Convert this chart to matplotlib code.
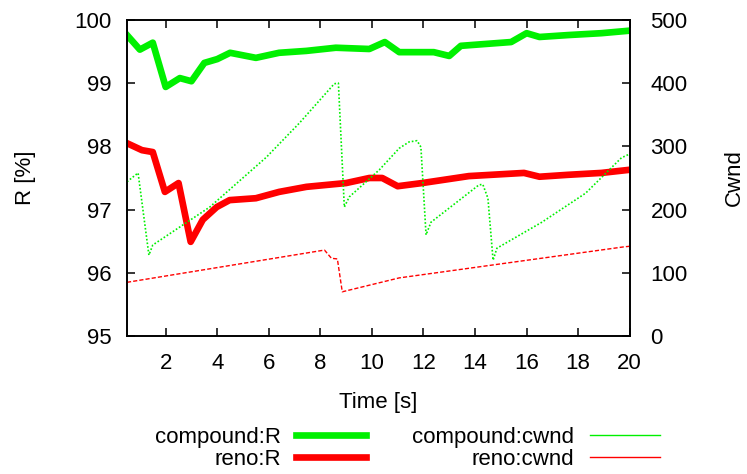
import matplotlib
matplotlib.use("Agg")
import matplotlib.pyplot as plt
from matplotlib.lines import Line2D

plt.rcParams['font.family'] = ['Liberation Sans', 'DejaVu Sans']
plt.rcParams['font.size'] = 16

# compound R [%]
t_cr = [0.5, 1.0, 1.5, 2.0, 2.55, 3.0, 3.5, 4.0, 4.5, 5.5, 6.4, 7.46, 8.6, 9.9,
        10.5, 11.06, 12.4, 13.0, 13.45, 15.4, 16.0, 16.5, 17.6, 18.9, 20]
r_comp = [99.76, 99.53, 99.64, 98.94, 99.08, 99.03, 99.32, 99.38, 99.48, 99.40,
          99.48, 99.51, 99.56, 99.54, 99.65, 99.49, 99.49, 99.43, 99.59, 99.65,
          99.79, 99.73, 99.76, 99.79, 99.83]

# reno R [%]
t_rr = [0.5, 1.08, 1.5, 1.97, 2.5, 2.97, 3.44, 3.98, 4.48, 5.5, 6.4, 7.46, 9.0,
        9.9, 10.4, 11.0, 11.95, 13.76, 15.9, 16.5, 17.6, 18.9, 20]
r_reno = [98.05, 97.94, 97.91, 97.28, 97.42, 96.49, 96.84, 97.04, 97.15, 97.18,
          97.28, 97.36, 97.42, 97.50, 97.50, 97.37, 97.42, 97.53, 97.58, 97.52,
          97.55, 97.58, 97.63]

# compound cwnd
t_cc = [0.5, 0.93, 1.35, 1.5, 3.71, 5.91, 7.19, 8.54, 8.7, 8.93, 9.12, 10.29,
        11.06, 11.44, 11.75, 11.9, 12.1, 12.29, 14.15, 14.3, 14.5, 14.7, 14.85,
        16.59, 18.29, 19.68, 20]
cw_comp = [244, 258, 128, 144, 204, 283, 337, 399, 400, 204, 220, 263, 297, 307,
           309, 299, 160, 180, 239, 240, 218, 120, 139, 180, 226, 282, 288]

# reno cwnd
t_rc = [0.5, 8.16, 8.43, 8.66, 8.85, 11.06, 19.76, 20]
cw_reno = [85, 136, 123, 122, 70, 92, 141, 142]

green = '#00f000'
red = '#ff0000'

fig = plt.figure(figsize=(7.47, 4.74), dpi=100)
ax = fig.add_axes([0.170, 0.291, 0.673, 0.667])
ax2 = ax.twinx()

ax.plot(t_cr, r_comp, color=green, lw=4.8, solid_joinstyle='round')
ax.plot(t_rr, r_reno, color=red, lw=4.8, solid_joinstyle='round')
ax2.plot(t_cc, cw_comp, color=green, lw=1.2, ls=(0, (1, 1.2)))
ax2.plot(t_rc, cw_reno, color=red, lw=1.0, ls=(0, (3, 1.5)))

ax.set_xlim(0.5, 20)
ax.set_ylim(95, 100)
ax2.set_ylim(0, 500)
ax.set_xticks(range(2, 21, 2))
ax.set_yticks(range(95, 101))
ax2.set_yticks(range(0, 501, 100))

ax.tick_params(axis='both', direction='in', length=6, width=1.1, pad=11)
ax.tick_params(axis='x', top=True, pad=12)
ax.tick_params(axis='y', right=False)
ax2.tick_params(axis='y', direction='in', length=6, width=1.1, pad=15)
for a in (ax, ax2):
    for s in a.spines.values():
        s.set_linewidth(1.2)

ax.set_xlabel('Time [s]', labelpad=13)
ax.set_ylabel('R [%]', labelpad=28)
ax2.set_ylabel('Cwnd', labelpad=26)

handles = [Line2D([], [], color=green, lw=4.8),
           Line2D([], [], color=red, lw=4.8),
           Line2D([], [], color=green, lw=1.0),
           Line2D([], [], color=red, lw=1.0)]
labels = ['compound:R', 'reno:R', 'compound:cwnd', 'reno:cwnd']
fig.legend(handles, labels, ncol=2, markerfirst=False, frameon=False,
           loc='center', bbox_to_anchor=(0.545, 0.054), handlelength=3.15,
           handletextpad=0.68, columnspacing=2.1, labelspacing=0.05,
           borderpad=0, fontsize=16)

fig.savefig('out.png', dpi=100)
